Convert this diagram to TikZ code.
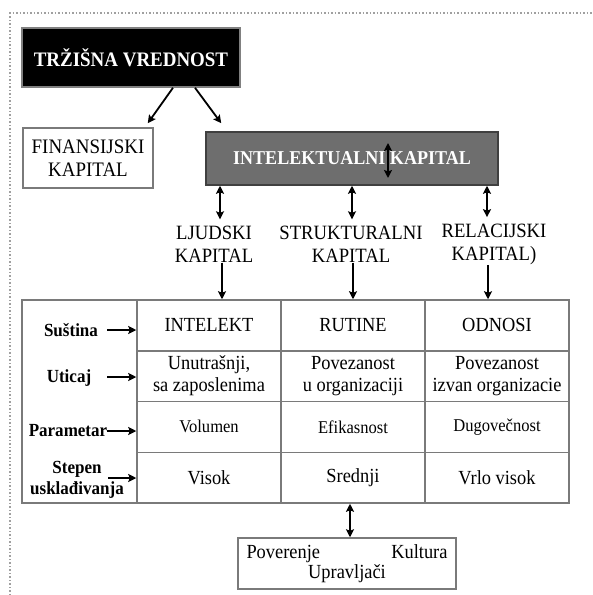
\documentclass[tikz,border=0pt]{standalone}
\usepackage{fontspec}
\setmainfont{Liberation Serif}[FakeStretch=0.92]
\usetikzlibrary{shapes, arrows, arrows.meta}

\definecolor{framegray}{HTML}{A0A0A0}
\definecolor{linegray}{HTML}{7A7A7A}
\definecolor{boxgray}{HTML}{6E6E6E}

\tikzstyle{headbox} = [rectangle, minimum width=218pt, minimum height=59pt, text centered, draw=gray, line width=1.5pt, fill=black, text=white, font=\bfseries\fontsize{20.6}{22}\selectfont]
\tikzstyle{capbox} = [rectangle, minimum width=130pt, minimum height=60pt, align=center, draw=linegray, line width=1.5pt, font=\fontsize{20.6}{23.5}\selectfont]
\tikzstyle{intbox} = [rectangle, minimum width=292pt, minimum height=53pt, text centered, draw=darkgray, line width=1.5pt, fill=boxgray, text=white, font=\bfseries\fontsize{19.6}{22}\selectfont]
\tikzstyle{kind} = [align=center, inner sep=0pt, font=\fontsize{20.3}{22.5}\selectfont]
\tikzstyle{cell} = [rectangle, minimum width=144pt, minimum height=50.75pt, align=center, draw=linegray, line width=1.5pt, inner sep=0pt, font=\fontsize{20}{22}\selectfont]
\tikzstyle{smallcell} = [cell, font=\fontsize{18}{20}\selectfont]
\tikzstyle{rowlabel} = [align=center, inner sep=0pt, font=\bfseries\fontsize{18.5}{21}\selectfont]
\tikzstyle{footbox} = [rectangle, minimum width=218pt, minimum height=51pt, text width=201pt, align=center, draw=linegray, line width=1.5pt, font=\fontsize{20}{19.5}\selectfont]
\tikzstyle{edge} = [line width=1.8pt, ->, >={Stealth[length=8pt, width=8pt, inset=1.5pt]}]
\tikzstyle{dedge} = [line width=1.8pt, <->, >={Stealth[length=8pt, width=8pt, inset=1.5pt]}]

\begin{document}
\begin{tikzpicture}[x=1pt, y=-1pt]
\useasboundingbox (0,0) rectangle (593,595);
\draw [framegray, dotted, line width=1.5pt] (10,595) -- (10,13) -- (593,13);

\node (0) [headbox] at (131,57.5) {TRŽIŠNA VREDNOST};
\node (1) [capbox] at (88,158) {FINANSIJSKI\\KAPITAL};
\node (2) [intbox] at (352,158.5) {INTELEKTUALNI KAPITAL};
\node (3) [kind] at (214,244.5) {LJUDSKI\\KAPITAL};
\node (4) [kind] at (351,244.5) {STRUKTURALNI\\KAPITAL};
\node (5) [kind] at (494,244.5) {RELACIJSKI\\KAPITAL)};

% table
\node (l) [rectangle, draw=linegray, line width=1.5pt, minimum width=115pt, minimum height=203pt] at (79.5,401.5) {};
\node (c11) [cell] at (209,325.375) {INTELEKT};
\node (c12) [cell] at (353,325.375) {RUTINE};
\node (c13) [cell] at (497,325.375) {ODNOSI};
\node (c21) [cell] at (209,376.125) {Unutrašnji,\\sa zaposlenima};
\node (c22) [cell] at (353,376.125) {Povezanost\\u organizaciji};
\node (c23) [cell] at (497,376.125) {Povezanost\\izvan organizacie};
\node (c31) [smallcell] at (209,426.875) {Volumen};
\node (c32) [smallcell] at (353,426.875) {Efikasnost};
\node (c33) [smallcell] at (497,426.875) {Dugovečnost};
\node (c41) [cell] at (209,477.625) {Visok};
\node (c42) [cell] at (353,477.625) {Srednji};
\node (c43) [cell] at (497,477.625) {Vrlo visok};

\node (r1) [rowlabel] at (71,330) {Suština};
\node (r2) [rowlabel] at (69,378) {Uticaj};
\node (r3) [rowlabel] at (68,431) {Parametar};
\node (r4) [rowlabel] at (77,480) {Stepen\\usklađivanja};
\coordinate (a1) at (107,330);
\coordinate (a2) at (107,377);
\coordinate (a3) at (107,431);
\coordinate (a4) at (108,478);

\node (6) [footbox] at (347,563.5) {Poverenje\hfill Kultura\\Upravljači};

\coordinate (i1) at (388,143);
\coordinate (i2) at (388,178);

\draw [edge] ([xshift=42pt]0.south) -- ([xshift=-6pt, yshift=4pt]1.north east);
\draw [edge] ([xshift=64pt]0.south) -- ([xshift=16pt, yshift=8pt]2.north west);
\draw [dedge] (i1) -- (i2);
\draw [dedge] ([xshift=6pt]3.north |- 2.south) -- ([xshift=6pt, yshift=7pt]3.north);
\draw [dedge] ([xshift=1pt]4.north |- 2.south) -- ([xshift=1pt, yshift=7pt]4.north);
\draw [dedge] ([xshift=-7pt]5.north |- 2.south) -- ([xshift=-7pt, yshift=7pt]5.north);
\draw [edge] ([xshift=8pt]3.south) -- ([xshift=8pt]3.south |- c11.north);
\draw [edge] ([xshift=2pt]4.south) -- ([xshift=2pt]4.south |- c12.north);
\draw [edge] ([xshift=-6pt]5.south) -- ([xshift=-6pt]5.south |- c13.north);
\draw [edge] (a1) -- (a1 -| c11.west);
\draw [edge] (a2) -- (a2 -| c21.west);
\draw [edge] (a3) -- (a3 -| c31.west);
\draw [edge] (a4) -- (a4 -| c41.west);
\draw [dedge] ([xshift=-3pt]c42.south) -- ([xshift=-3pt]c42.south |- 6.north);

\end{tikzpicture}
\end{document}
